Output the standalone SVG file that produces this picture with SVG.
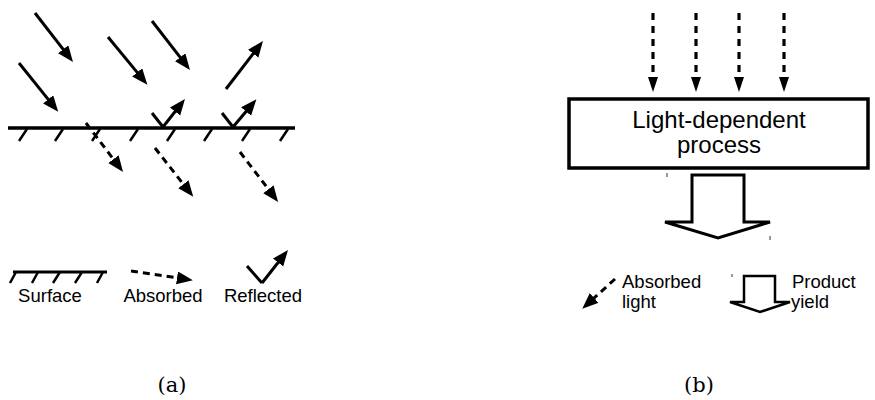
<svg xmlns="http://www.w3.org/2000/svg" width="875" height="400" viewBox="0 0 875 400">
  <style>
    .ray { stroke: #000; stroke-width: 3; fill: none; marker-end: url(#head); }
    .dash { stroke: #000; stroke-width: 3; fill: none; stroke-dasharray: 7 5; marker-end: url(#head); }
    .vdash { stroke: #000; stroke-width: 3.2; fill: none; stroke-dasharray: 7 6; marker-end: url(#headNarrow); }
    .line { stroke: #000; stroke-width: 3.5; fill: none; }
    .hatch { stroke: #000; stroke-width: 2.5; fill: none; }
    .label { font-family: "Liberation Sans", Arial, sans-serif; font-size: 18.5px; fill: #000; }
    .title { font-family: "Liberation Sans", Arial, sans-serif; font-size: 24px; fill: #000; text-anchor: middle; }
    .caption { font-family: "DejaVu Serif", "Liberation Serif", serif; font-size: 21px; fill: #000; text-anchor: middle; }
    .hollow { stroke: #000; stroke-width: 3; fill: #fff; stroke-linejoin: miter; }
    .speck { stroke: #333; stroke-width: 1; }
  </style>
  <defs>
    <marker id="head" markerUnits="userSpaceOnUse" markerWidth="17" markerHeight="14" refX="1" refY="6.5" orient="auto">
      <path d="M0,0 L16,6.5 L0,13 z" fill="#000"/>
    </marker>
    <marker id="headNarrow" markerUnits="userSpaceOnUse" markerWidth="16" markerHeight="11" refX="1" refY="5" orient="auto">
      <path d="M0,0 L15,5 L0,10 z" fill="#000"/>
    </marker>
  </defs>

  <!-- (a) surface with incident, absorbed and reflected light -->
  <g id="surface">
    <line class="line" x1="8" y1="128" x2="295" y2="128"/>
    <path class="hatch" d="M27,129 L19,141 M63,129 L55,141 M100,129 L92,141 M138,129 L130,141 M175,129 L167,141 M212,129 L204,141 M250,129 L242,141 M288,129 L280,141"/>
  </g>

  <g id="connectors">
    <!-- incident rays -->
    <path class="ray" d="M35,13 L63.8,50.1"/>
    <path class="ray" d="M19,63 L48.8,100.1"/>
    <path class="ray" d="M108,37 L137.8,73.1"/>
    <path class="ray" d="M152,21 L180.8,58.1"/>
    <!-- outgoing ray -->
    <path class="ray" d="M226,89 L253.8,52.9"/>
    <!-- reflections -->
    <path class="line" d="M152,113 L163,127" style="stroke-width:3"/>
    <path class="ray" d="M163,127 L175.7,110.8"/>
    <path class="line" d="M222,113 L233,127" style="stroke-width:3"/>
    <path class="ray" d="M233,127 L246.7,110.8"/>
    <!-- absorbed rays -->
    <path class="dash" d="M86,123 L114,160"/>
    <path class="dash" d="M155,148 L184,185"/>
    <path class="dash" d="M240,152 L269,190"/>

    <!-- (b) incoming light onto the process -->
    <path class="vdash" d="M653,13 L653,78"/>
    <path class="vdash" d="M696,13 L696,78"/>
    <path class="vdash" d="M739,13 L739,78"/>
    <path class="vdash" d="M784,13 L784,78"/>
  </g>

  <!-- (a) legend -->
  <g id="legend-surface">
    <line class="hatch" x1="13" y1="272" x2="107" y2="272" style="stroke-width:3"/>
    <path class="hatch" d="M16,272 L10,283 M38,272 L32,283 M60,272 L53,283 M82,272 L75,283 M103,272 L97,283"/>
    <text class="label" x="50" y="302" text-anchor="middle">Surface</text>
  </g>
  <g id="legend-absorbed">
    <path class="dash" d="M131,271 L178,278"/>
    <text class="label" x="163" y="302" text-anchor="middle">Absorbed</text>
  </g>
  <g id="legend-reflected">
    <path class="line" d="M247,266 L262,283" style="stroke-width:3"/>
    <path class="ray" d="M262,283 L278.7,261.8"/>
    <text class="label" x="263" y="302" text-anchor="middle">Reflected</text>
  </g>

  <!-- (b) process -->
  <g id="process">
    <rect x="569" y="99" width="299" height="69" fill="#fff" stroke="#000" stroke-width="3.5"/>
    <text class="title" x="719" y="128">Light-dependent</text>
    <text class="title" x="719" y="153">process</text>
  </g>
  <g id="product-arrow">
    <polygon class="hollow" points="692,175 744,175 744,222 770,222 718,238 665,222 692,222"/>
    <line class="speck" x1="667" y1="173" x2="667" y2="177"/>
    <line class="speck" x1="770" y1="236" x2="770" y2="240"/>
  </g>

  <!-- (b) legend -->
  <g id="legend-light">
    <path class="dash" d="M615,279 L593.4,298.6"/>
    <text class="label" x="622" y="288">Absorbed</text>
    <text class="label" x="622" y="308">light</text>
  </g>
  <g id="legend-yield">
    <polygon class="hollow" style="stroke-width:2.5" points="744,276 775,276 775,302 790,302 760,312 730,302 744,302"/>
    <line class="speck" x1="732" y1="274" x2="732" y2="277"/>
    <text class="label" x="792" y="288">Product</text>
    <text class="label" x="791" y="308">yield</text>
  </g>

  <!-- captions -->
  <text class="caption" x="172" y="392">(a)</text>
  <text class="caption" x="699" y="392">(b)</text>
</svg>
